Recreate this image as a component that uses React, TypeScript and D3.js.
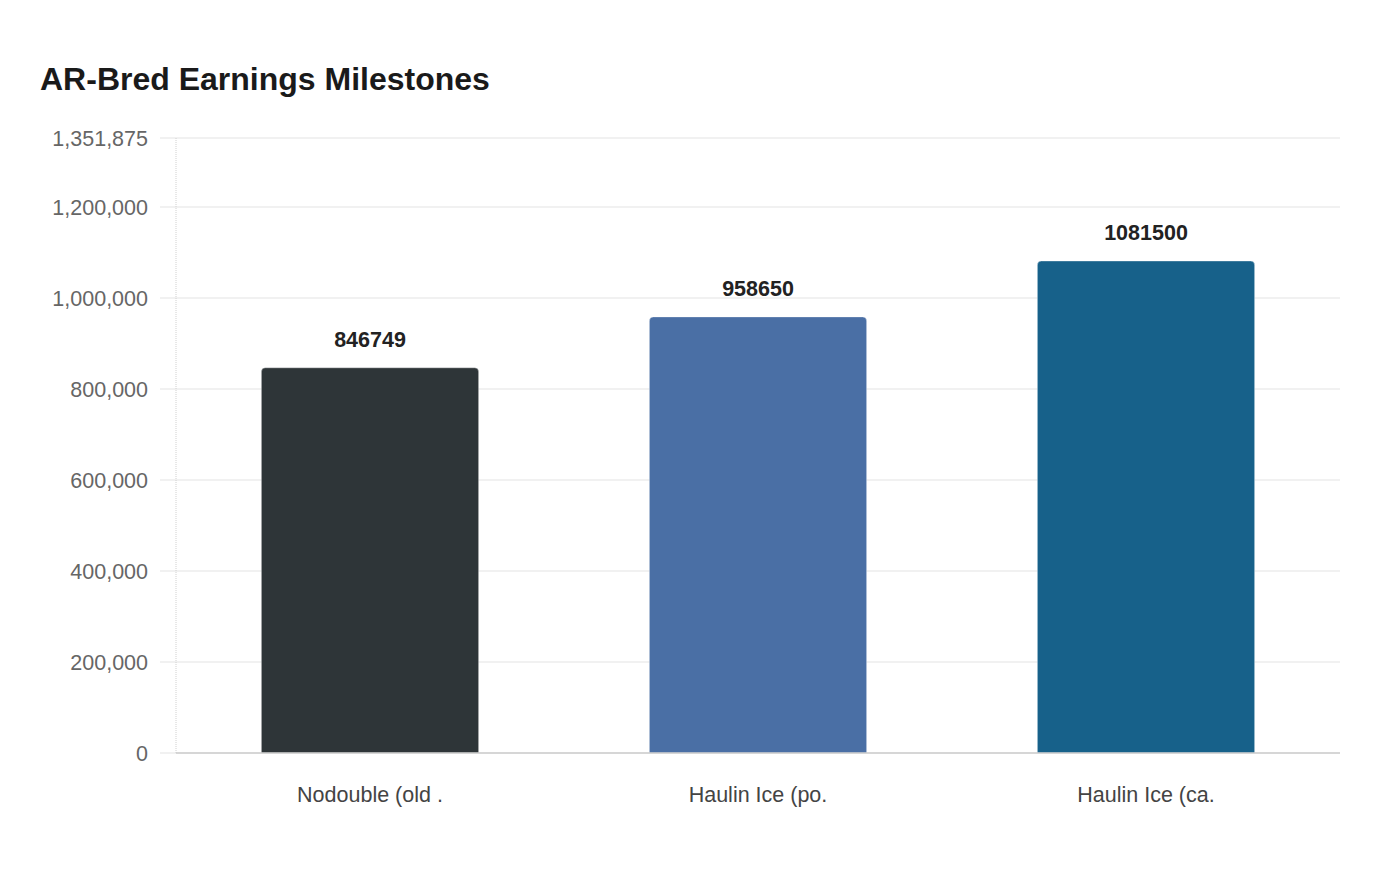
import React, { useEffect, useRef } from 'react';
import * as d3 from 'd3';

const CATEGORIES = ['Nodouble (old .', 'Haulin Ice (po.', 'Haulin Ice (ca.'];
const EARNINGS = [846749, 958650, 1081500];
const BAR_COLORS = ['#2e3538', '#4a6fa5', '#17618a'];
const Y_TICKS = [0, 200000, 400000, 600000, 800000, 1000000, 1200000, 1351875];
const Y_MAX = 1351875;

export default function App() {
    const svgRef = useRef<SVGSVGElement>(null);

    useEffect(() => {
        if (!svgRef.current) return;
        const width = 1400;
        const height = 880;
        const margin = { top: 138, right: 60, bottom: 127, left: 176 };

        const svg = d3.select(svgRef.current);
        svg.selectAll('*').remove();
        svg.attr('viewBox', `0 0 ${width} ${height}`);

        const font = '"Liberation Sans", Arial, sans-serif';

        svg.append('text')
            .attr('x', 40)
            .attr('y', 90)
            .style('font-family', font)
            .style('font-size', '32px')
            .style('font-weight', 700)
            .attr('fill', '#1a1a1a')
            .text('AR-Bred Earnings Milestones');

        const x = d3.scaleBand<string>()
            .domain(CATEGORIES)
            .range([margin.left, width - margin.right])
            .paddingInner(0.44)
            .paddingOuter(0.22);

        const y = d3.scaleLinear()
            .domain([0, Y_MAX])
            .range([height - margin.bottom, margin.top]);

        // Grid lines
        const grid = svg.append('g');
        grid.selectAll('line')
            .data(Y_TICKS)
            .join('line')
            .attr('x1', margin.left - 16)
            .attr('x2', width - margin.right)
            .attr('y1', d => y(d))
            .attr('y2', d => y(d))
            .attr('stroke', '#ececec')
            .attr('stroke-width', 1.5);

        // Y tick labels
        svg.append('g').selectAll('text')
            .data(Y_TICKS)
            .join('text')
            .attr('x', margin.left - 28)
            .attr('y', d => y(d))
            .attr('dy', '0.35em')
            .attr('text-anchor', 'end')
            .style('font-family', font)
            .style('font-size', '21.5px')
            .attr('fill', '#666')
            .text(d => d3.format(',')(d));

        // Vertical axis line (dotted)
        svg.append('line')
            .attr('x1', margin.left)
            .attr('x2', margin.left)
            .attr('y1', margin.top)
            .attr('y2', height - margin.bottom)
            .attr('stroke', '#d0d0d0')
            .attr('stroke-dasharray', '1,1');

        // Bars with rounded tops
        const r = 4;
        const bars = svg.append('g');
        CATEGORIES.forEach((c, i) => {
            const x0 = x(c)!;
            const w = x.bandwidth();
            const y0 = y(EARNINGS[i]);
            const yb = y(0);
            const p = d3.path();
            p.moveTo(x0, yb);
            p.lineTo(x0, y0 + r);
            p.arcTo(x0, y0, x0 + r, y0, r);
            p.lineTo(x0 + w - r, y0);
            p.arcTo(x0 + w, y0, x0 + w, y0 + r, r);
            p.lineTo(x0 + w, yb);
            p.closePath();
            bars.append('path')
                .attr('d', p.toString())
                .attr('fill', BAR_COLORS[i])
                .attr('stroke', 'rgba(255,255,255,0.35)')
                .attr('stroke-width', 1);

            bars.append('text')
                .attr('x', x0 + w / 2)
                .attr('y', y0 - 21)
                .attr('text-anchor', 'middle')
                .style('font-family', font)
                .style('font-size', '21.5px')
                .style('font-weight', 700)
                .attr('fill', '#222')
                .text(String(EARNINGS[i]));

            svg.append('text')
                .attr('x', x0 + w / 2)
                .attr('y', height - margin.bottom + 49)
                .attr('text-anchor', 'middle')
                .style('font-family', font)
                .style('font-size', '21.5px')
                .attr('fill', '#444')
                .text(c);
        });

        // Bottom axis line
        svg.append('line')
            .attr('x1', margin.left)
            .attr('x2', width - margin.right)
            .attr('y1', y(0))
            .attr('y2', y(0))
            .attr('stroke', '#cccccc')
            .attr('stroke-width', 1.5);
    }, []);

    return (
        <svg
            ref={svgRef}
            width={1400}
            height={880}
            style={{ position: 'absolute', left: 0, top: 0, background: '#fff' }}
        />
    );
}
